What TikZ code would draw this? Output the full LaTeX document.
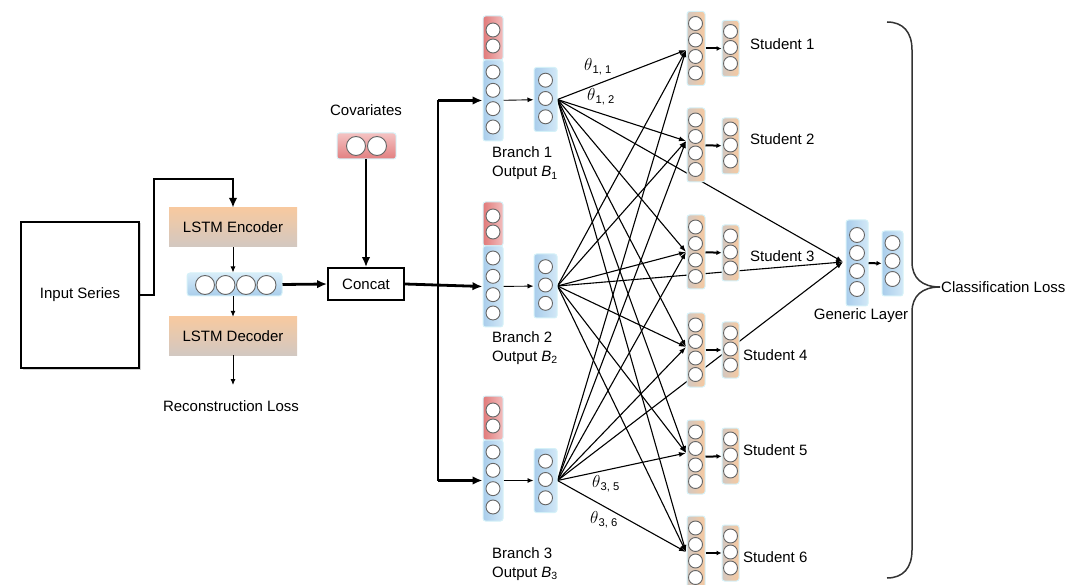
\documentclass[tikz,border=0pt]{standalone}
\usepackage{fontspec}
\setmainfont{Liberation Sans}
\usetikzlibrary{arrows.meta,calc,shadows,backgrounds}
\definecolor{blueL}{HTML}{A9CDEB}
\definecolor{blueR}{HTML}{D2E8F7}
\definecolor{blueT}{HTML}{D8EDF9}
\definecolor{redL}{HTML}{E07A7A}
\definecolor{redR}{HTML}{F3BDBD}
\definecolor{redT}{HTML}{F4C3C3}
\definecolor{redB}{HTML}{E27F80}
\definecolor{orgL}{HTML}{D2C8C1}
\definecolor{orgR}{HTML}{F7C9A0}
\definecolor{glow}{HTML}{D5F1F8}
\definecolor{ringc}{HTML}{666666}
\definecolor{bracec}{HTML}{333333}
\begin{document}
\begin{tikzpicture}[x=1pt,y=-1pt,
  every node/.style={font=\fontsize{15}{18}\selectfont},
  neu/.style={circle,draw=ringc,fill=white,line width=0.9pt,inner sep=0pt,minimum size=#1},
  neu/.default=14pt,
  stk/.style={rectangle,rounded corners=2.5pt,draw=glow,line width=1pt,inner sep=0pt},
  bluev/.style={stk,left color=blueL,right color=blueR},
  redv/.style={stk,left color=redL,right color=redR},
  orgv/.style={stk,left color=orgL,right color=orgR},
  lstm/.style={rectangle,inner sep=0pt,minimum width=128pt,minimum height=39pt,top color=orgR,bottom color=orgL},
  thickarr/.style={line width=2.8pt,-{Latex[length=10pt,width=8.5pt]}},
  thickln/.style={line width=2.8pt},
  thinarr/.style={line width=0.9pt,-{Latex[length=6pt,width=5pt]}},
  midarr/.style={line width=2pt,-{Latex[length=5pt,width=5pt]}},
  fan/.style={line width=1.1pt,-{Latex[length=7pt,width=5pt]}},
  bracepath/.style={line width=1.5pt,draw=bracec},
  lbl/.style={anchor=base west,inner sep=0pt},
  theta/.style={font=\fontsize{16}{18}\selectfont}
]
\useasboundingbox (0,0) rectangle (1079,585);

% ---------- left part ----------
\node[rectangle,draw=black,line width=2.6pt,fill=white,minimum width=118pt,minimum height=146pt,
  drop shadow={opacity=0.35,shadow xshift=1.5pt,shadow yshift=-1.5pt}] (inp) at (80,295) {Input Series};
\node[lstm] (enc) at (233,227.5) {LSTM Encoder};
\node[rectangle,rounded corners=3pt,draw=glow,line width=1pt,minimum width=95pt,minimum height=23pt,inner sep=0pt,
  top color=blueT,bottom color=blueL] (vec) at (234.5,284.5) {};
\foreach \j/\x in {1/205,2/225.5,3/246,4/266.5} \node[neu=19pt] (vc\j) at (\x,285) {};
\node[lstm,minimum height=38pt] (dec) at (233,336) {LSTM Decoder};
\coordinate (recend) at (233,385);
\node (rec) at (231,406) {Reconstruction Loss};
\coordinate (j1) at (154,179);
\draw[thickarr] (inp.east) -| (j1) -| (enc.north);
\draw[thinarr] (enc.south) -- (enc.south |- vec.north);
\draw[thinarr] (vec.south -| dec.north) -- (dec.north);
\draw[thinarr] (dec.south) -- (recend);

% ---------- covariates / concat ----------
\node (covl) at (366,110) {Covariates};
\node[rectangle,rounded corners=2.5pt,draw=glow,line width=1pt,minimum width=59pt,minimum height=26pt,inner sep=0pt,
  top color=redT,bottom color=redB] (cov) at (366.5,146) {};
\node[neu=19pt] (cv1) at (356,146) {};
\node[neu=19pt] (cv2) at (377,146) {};
\node[rectangle,draw=black,line width=1.8pt,fill=white,minimum width=76pt,minimum height=32pt,inner sep=0pt] (cat) at (366,284) {Concat};
\draw[thickarr] (vec.east) -- (cat.west);
\draw[thickarr] (cov.south -| cat.north) -- (cat.north);

% ---------- branches ----------
\foreach \k/\yo/\m in {1/72/98.5,2/258/285,3/452/479.5}{
  \node[redv,minimum width=20pt,minimum height=44pt] (br\k) at (493,\yo-34) {};
  \node[bluev,minimum width=20pt,minimum height=81pt] (bb\k) at (493,\yo+28.5) {};
  \node[neu] (br\k c1) at (493,\yo-42) {};
  \node[neu] (br\k c2) at (493,\yo-26) {};
  \foreach \j in {0,...,3} \node[neu] (bb\k c\j) at (493,\yo+18.33*\j) {};
  \node[bluev,minimum width=23pt,minimum height=64pt] (bs\k) at (545.5,\m+1) {};
  \foreach \j in {-1,0,1} \node[neu] (bs\k c\j) at (545.5,\m+18.3*\j) {};
  \draw[thinarr] (bb\k) -- (bs\k);
}
\node[lbl] (bl1a) at (492,158) {Branch 1};
\node[lbl] (bl1b) at (492,177) {Output \textit{B}\textsubscript{1}};
\node[lbl] (bl2a) at (492,342) {Branch 2};
\node[lbl] (bl2b) at (492,361) {Output \textit{B}\textsubscript{2}};
\node[lbl] (bl3a) at (492,558) {Branch 3};
\node[lbl] (bl3b) at (492,577) {Output \textit{B}\textsubscript{3}};

\coordinate (bx) at (438,0);
\draw[thickln] (bb1.west -| bx) -- (bb3.west -| bx);
\draw[thickarr] (bb1.west -| bx) -- (bb1.west);
\draw[thickarr] (bb3.west -| bx) -- (bb3.west);
\draw[thickarr] (cat.east) -- (bb2.west);

% ---------- students ----------
\foreach \s/\c/\m/\cin/\lx/\ly in {1/23.5/47.5/50/750/44,2/120/145/141/750/139,3/227/252/252/750/256,4/325/349/347/743/355,5/432/455/453/743/450,6/528/552/552/743/557}{
  \node[orgv,minimum width=18pt,minimum height=74pt] (sb\s) at (696,\c+25) {};
  \foreach \j in {0,...,3} \node[neu] (sb\s c\j) at (695.5,\c+16.5*\j) {};
  \node[orgv,minimum width=17pt,minimum height=56pt] (ss\s) at (730.5,\m+1) {};
  \foreach \j in {-1,0,1} \node[neu] (ss\s c\j) at (730.5,\m+16*\j) {};
  \draw[midarr] (sb\s) -- (ss\s);
  \coordinate (si\s) at (686,\cin);
  \node[anchor=west,inner sep=0pt] (sl\s) at (\lx,\ly) {Student \s};
}

% ---------- generic layer ----------
\node[bluev,minimum width=22pt,minimum height=86pt] (gb) at (857,263) {};
\foreach \j in {0,...,3} \node[neu=15pt] (gb c\j) at (857,235+18*\j) {};
\node[bluev,minimum width=21pt,minimum height=65pt] (gs) at (892.5,263.5) {};
\foreach \j in {0,...,2} \node[neu=15pt] (gs c\j) at (892.5,243+18*\j) {};
\draw[midarr] (gb) -- (gs);
\coordinate (gin) at (843,262);
\node (gl) at (861,316) {Generic Layer};

% ---------- fan connections ----------
\begin{scope}[on background layer]
  \foreach \k in {1,2,3}{
    \foreach \s in {1,...,6} \draw[fan] (bs\k.east) -- (si\s);
    \draw[fan] (bs\k.east) -- (gin);
  }
\end{scope}
\node[theta] (t11) at (598,67) {$\theta$\textsubscript{1, 1}};
\node[theta] (t12) at (601,97) {$\theta$\textsubscript{1, 2}};
\node[theta] (t35) at (606,484) {$\theta$\textsubscript{3, 5}};
\node[theta] (t36) at (604,520) {$\theta$\textsubscript{3, 6}};

% ---------- brace ----------
\draw[bracepath] (887,22) .. controls (903,22) and (912,32) .. (912,50) -- (912,262)
  .. controls (912,278) and (922,287) .. (940,287)
  .. controls (922,287) and (912,296) .. (912,312) -- (912,550)
  .. controls (912,568) and (903,578) .. (887,578);
\coordinate (btip) at (940,287);
\node[anchor=west,inner sep=1pt] (cls) at (btip) {Classification Loss};
\end{tikzpicture}
\end{document}
